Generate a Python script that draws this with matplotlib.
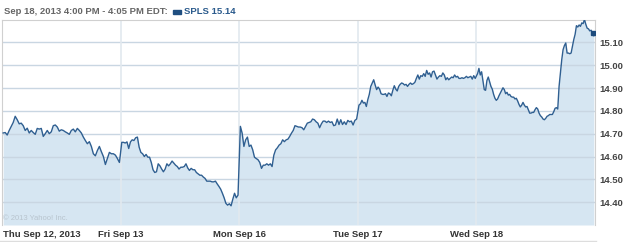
import numpy as np
import matplotlib.pyplot as plt

# SPLS 5-day intraday price, one list per trading day
day_labels = ['Thu Sep 12, 2013', 'Fri Sep 13', 'Mon Sep 16', 'Tue Sep 17', 'Wed Sep 18']

thu = [14.703, 14.705, 14.694, 14.714, 14.732, 14.749, 14.776, 14.761, 14.743, 14.746,
       14.735, 14.714, 14.724, 14.703, 14.714, 14.705, 14.697, 14.723, 14.720, 14.723,
       14.688, 14.700, 14.714, 14.700, 14.708, 14.735, 14.738, 14.729, 14.711, 14.717,
       14.714, 14.708, 14.703, 14.697, 14.714, 14.720, 14.708, 14.723, 14.714, 14.703,
       14.685, 14.670, 14.656, 14.665, 14.644, 14.612, 14.603, 14.626, 14.644, 14.621,
       14.600, 14.565, 14.591, 14.618, 14.612, 14.612, 14.606, 14.591, 14.574]

fri = [14.662, 14.662, 14.659, 14.664, 14.635, 14.664, 14.673, 14.670, 14.682, 14.685,
       14.641, 14.618, 14.612, 14.600, 14.609, 14.597, 14.597, 14.574, 14.542, 14.530,
       14.533, 14.568, 14.559, 14.545, 14.533, 14.545, 14.568, 14.559, 14.568, 14.580,
       14.571, 14.562, 14.556, 14.545, 14.553, 14.553, 14.556, 14.568, 14.550, 14.539,
       14.548, 14.542, 14.542, 14.530, 14.524, 14.518, 14.518, 14.510, 14.504, 14.492,
       14.492, 14.492, 14.489, 14.489, 14.492, 14.480, 14.469, 14.457, 14.439, 14.419,
       14.395, 14.387, 14.393, 14.384, 14.413, 14.439, 14.419, 14.431]

mon = [14.732, 14.702, 14.644, 14.673, 14.685, 14.644, 14.650, 14.629, 14.597, 14.591,
       14.586, 14.574, 14.548, 14.562, 14.562, 14.568, 14.562, 14.568, 14.556, 14.606,
       14.629, 14.638, 14.650, 14.656, 14.673, 14.665, 14.673, 14.676, 14.688, 14.702,
       14.714, 14.735, 14.732, 14.729, 14.729, 14.726, 14.717, 14.732, 14.746, 14.749,
       14.752, 14.764, 14.761, 14.752, 14.746, 14.726, 14.743, 14.755, 14.755, 14.749,
       14.755, 14.749, 14.752, 14.735, 14.738, 14.764, 14.740, 14.761, 14.740, 14.752,
       14.740, 14.758, 14.752, 14.755, 14.738, 14.758, 14.764]

tue = [14.825, 14.831, 14.846, 14.834, 14.837, 14.819, 14.849, 14.872, 14.907, 14.922,
       14.936, 14.913, 14.893, 14.904, 14.895, 14.875, 14.872, 14.872, 14.875, 14.863,
       14.878, 14.875, 14.866, 14.890, 14.910, 14.895, 14.887, 14.907, 14.916, 14.922,
       14.919, 14.913, 14.916, 14.907, 14.916, 14.922, 14.916, 14.919, 14.925, 14.942,
       14.957, 14.939, 14.954, 14.951, 14.963, 14.951, 14.977, 14.960, 14.966, 14.948,
       14.971, 14.974, 14.957, 14.939, 14.948, 14.954, 14.951, 14.966, 14.957, 14.936,
       14.945, 14.936, 14.942, 14.948, 14.945, 14.957, 14.948, 14.951, 14.942, 14.942,
       14.945, 14.942, 14.945, 14.951, 14.945, 14.948, 14.951, 14.939, 14.954, 14.942]

wed = [14.963, 14.986, 14.957, 14.971, 14.931, 14.893, 14.890, 14.933, 14.948, 14.928,
       14.907, 14.895, 14.872, 14.855, 14.846, 14.852, 14.866, 14.878, 14.890, 14.901,
       14.893, 14.875, 14.881, 14.869, 14.872, 14.863, 14.860, 14.860, 14.852, 14.855,
       14.843, 14.828, 14.817, 14.825, 14.837, 14.825, 14.817, 14.819, 14.805, 14.790,
       14.790, 14.793, 14.793, 14.805, 14.814, 14.808, 14.790, 14.779, 14.773, 14.764,
       14.761, 14.767, 14.776, 14.779, 14.784, 14.784, 14.784, 14.796, 14.811, 14.814,
       14.808, 14.907, 14.966, 15.024, 15.068, 15.086, 15.097, 15.053, 15.053, 15.050,
       15.053, 15.083, 15.112, 15.135, 15.173, 15.167, 15.176, 15.170, 15.185, 15.182,
       15.200, 15.179, 15.162, 15.159, 15.150, 15.153, 15.141, 15.129]

days = [thu, fri, mon, tue, wed]
y_ticks = [14.40, 14.50, 14.60, 14.70, 14.80, 14.90, 15.00, 15.10]
last_price = 15.14

# build x in "days" units so each session takes one slot
xs, ys = [], []
for d, vals in enumerate(days):
    xs.extend(d + np.linspace(0.01, 0.99, len(vals)))
    ys.extend(vals)
xs = np.array(xs)
ys = np.array(ys)

line_col = '#2f5f91'
fill_col = '#d6e6f2'
grid_col = '#d3dde6'

plt.rcParams['font.family'] = ['Liberation Sans', 'DejaVu Sans']

fig = plt.figure(figsize=(6.25, 2.42), dpi=100)
ax = fig.add_axes([2 / 625, 1 - 225 / 242, 593 / 625, 205.5 / 242])

ylo, yhi = 14.30, 15.20
ax.fill_between(xs, ys, ylo, color=fill_col, lw=0, zorder=1)
for t in y_ticks:
    ax.axhline(t, color='#c9d6e2', lw=1, zorder=2)
for d in range(1, 5):
    ax.axvline(d, color='#e2e9ef', lw=1.2, zorder=2)
ax.plot(xs, ys, color=line_col, lw=1.0, zorder=3)
ax.plot(xs[-1] - 0.005, last_price, 's', ms=3, color='#1d4b7c', zorder=4)

ax.set_xlim(0, 5)
ax.set_ylim(ylo, yhi)
ax.set_xticks([])
ax.yaxis.tick_right()
ax.set_yticks(y_ticks)
ax.set_yticklabels(['%.2f' % t for t in y_ticks], fontsize=6.8, fontweight='bold', color='#444444')
ax.tick_params(axis='y', length=0, pad=3)

for s in ['top', 'right', 'left']:
    ax.spines[s].set_color('#d0d0d0')
    ax.spines[s].set_linewidth(0.8)
ax.spines['bottom'].set_visible(False)

# day labels below the plot
for d, lab in enumerate(day_labels):
    ha = 'left' if d == 0 else 'center'
    xpos = 0.01 if d == 0 else d
    ax.text(xpos, -0.045, lab, transform=ax.get_xaxis_transform(), ha=ha, va='center',
            fontsize=6.8, fontweight='bold', color='#333333')

ax.text(0.012, 14.327, '\u00a9 2013 Yahoo! Inc.', fontsize=5.5, color='#b8c4ce', va='center')

# header
fig.text(4 / 625, 1 - 12 / 242, 'Sep 18, 2013 4:00 PM - 4:05 PM EDT:', fontsize=6.8,
         fontweight='bold', color='#666666', va='center')
fig.patches.append(plt.Rectangle((173 / 625, 1 - 14 / 242), 8 / 625, 4 / 242,
                                 transform=fig.transFigure, color='#1f4e80'))
fig.text(184 / 625, 1 - 12 / 242, 'SPLS 15.14', fontsize=6.8, fontweight='bold',
         color='#2a5a8c', va='center')

fig.lines.append(plt.Line2D([0, 596 / 625], [1.5 / 242, 1.5 / 242], transform=fig.transFigure,
                            color='#dddddd', lw=1))

fig.savefig('out.png', dpi=100)
